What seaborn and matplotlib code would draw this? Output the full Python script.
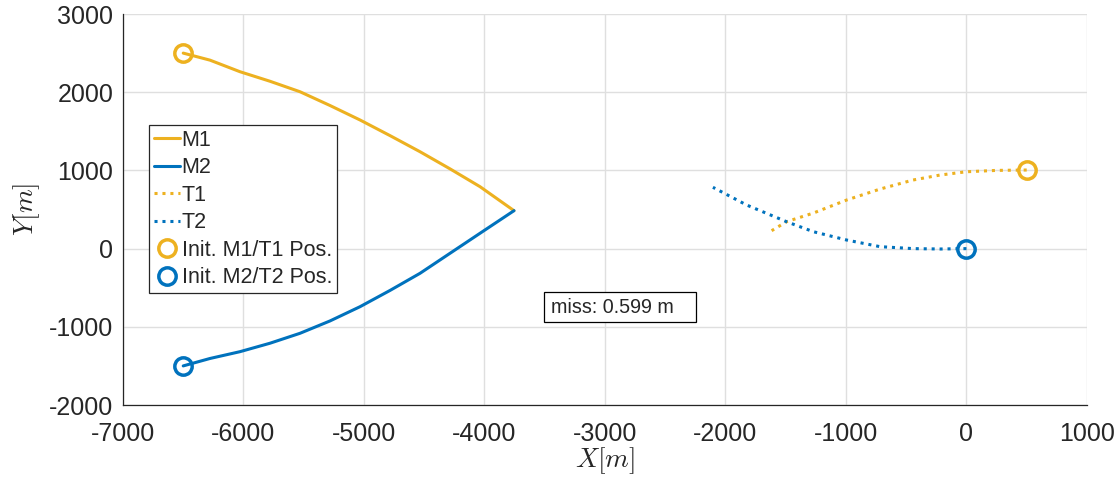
import matplotlib
matplotlib.use("Agg")
import matplotlib.pyplot as plt
import seaborn as sns
import pandas as pd
from matplotlib.lines import Line2D
from matplotlib.patches import Rectangle

# trajectories
m1_x = [-6500, -6278, -6029, -5780, -5531, -5282, -5033, -4784, -4535, -4286, -4037, -3755]
m1_y = [2500, 2410, 2262, 2140, 2006, 1830, 1645, 1445, 1239, 1020, 792, 485]
m2_x = [-6500, -6278, -6029, -5780, -5531, -5282, -5033, -4784, -4535, -4286, -4037, -3755]
m2_y = [-1500, -1405, -1318, -1210, -1083, -925, -743, -535, -316, -60, 196, 485]
t1_x = [500, 250, 0, -222, -444, -720, -995, -1270, -1493, -1617]
t1_y = [1005, 1000, 983, 940, 877, 760, 621, 455, 344, 229]
t2_x = [0, -222, -444, -718, -995, -1270, -1493, -1825, -2104]
t2_y = [0, -5, 0, 25, 110, 216, 344, 558, 784]
init1 = (-6500, 2500, 500, 1000)   # M1 x,y / T1 x,y
init2 = (-6500, -1500, 0, 0)       # M2 x,y / T2 x,y
miss_text = "miss: 0.599 m"

orange = "#EDB120"
blue = "#0072BD"

sns.set_style("white")
plt.rcParams["font.family"] = ["Liberation Sans", "DejaVu Sans"]
plt.rcParams["mathtext.fontset"] = "cm"
plt.rcParams["axes.unicode_minus"] = False

df = pd.concat([
    pd.DataFrame({"x": m1_x, "y": m1_y, "name": "M1"}),
    pd.DataFrame({"x": m2_x, "y": m2_y, "name": "M2"}),
    pd.DataFrame({"x": t1_x, "y": t1_y, "name": "T1"}),
    pd.DataFrame({"x": t2_x, "y": t2_y, "name": "T2"}),
])

fig = plt.figure(figsize=(11.2, 4.78), dpi=100)
ax = fig.add_axes([0.1098, 0.1527, 0.8607, 0.818])

lw = 2.2
dots = (0, (1, 1.6))
sns.lineplot(data=df[df.name == "M1"], x="x", y="y", sort=False, color=orange, lw=lw, ax=ax, zorder=3)
sns.lineplot(data=df[df.name == "M2"], x="x", y="y", sort=False, color=blue, lw=lw, ax=ax, zorder=3)
sns.lineplot(data=df[df.name == "T1"], x="x", y="y", sort=False, color=orange, lw=lw, ls=dots, ax=ax, zorder=3)
sns.lineplot(data=df[df.name == "T2"], x="x", y="y", sort=False, color=blue, lw=lw, ls=dots, ax=ax, zorder=3)

ax.plot([init1[0], init1[2]], [init1[1], init1[3]], ls="none", marker="o", ms=12.5,
        mfc="none", mec=orange, mew=2.5, zorder=4)
ax.plot([init2[0], init2[2]], [init2[1], init2[3]], ls="none", marker="o", ms=12.5,
        mfc="none", mec=blue, mew=2.5, zorder=4)

# annotation box (axes fraction), text inside
ax.add_patch(Rectangle((0.437, 0.212), 0.157, 0.076, transform=ax.transAxes,
                       fc="white", ec="black", lw=0.9, zorder=5))
ax.text(0.444, 0.250, miss_text, transform=ax.transAxes, fontsize=14.2,
        va="center", ha="left", zorder=6)

ax.set_xlim(-7000, 1000)
ax.set_ylim(-2000, 3000)
ax.set_xticks(range(-7000, 1001, 1000))
ax.set_yticks(range(-2000, 3001, 1000))
ax.grid(True, color="#dfdfdf", lw=1.0)
ax.set_axisbelow(True)
for s in ["top", "right"]:
    ax.spines[s].set_visible(False)
for s in ["left", "bottom"]:
    ax.spines[s].set_color("#262626")
    ax.spines[s].set_linewidth(0.9)
ax.tick_params(direction="in", length=7, width=0.9, color="#262626",
               labelsize=18, labelcolor="#262626")
ax.tick_params(axis="x", pad=12)
ax.tick_params(axis="y", pad=7)
ax.set_xlabel(r"$X[m]$", fontsize=19.5, color="#262626", labelpad=0)
ax.set_ylabel(r"$Y[m]$", fontsize=19.5, color="#262626", labelpad=5)

handles = [
    Line2D([], [], color=orange, lw=lw),
    Line2D([], [], color=blue, lw=lw),
    Line2D([], [], color=orange, lw=lw, ls=dots),
    Line2D([], [], color=blue, lw=lw, ls=dots),
    Line2D([], [], ls="none", marker="o", ms=12.5, mfc="none", mec=orange, mew=2.5),
    Line2D([], [], ls="none", marker="o", ms=12.5, mfc="none", mec=blue, mew=2.5),
]
labels = ["M1", "M2", "T1", "T2", "Init. M1/T1 Pos.", "Init. M2/T2 Pos."]
leg = ax.legend(handles, labels, loc="upper left", bbox_to_anchor=(0.027, 0.716),
                borderaxespad=0, fontsize=15.5, handlelength=1.2, handletextpad=0.1,
                labelspacing=0.3, borderpad=0.22, fancybox=False, framealpha=1,
                edgecolor="#262626")
leg.get_frame().set_linewidth(0.9)

fig.savefig("out.png", dpi=100)
